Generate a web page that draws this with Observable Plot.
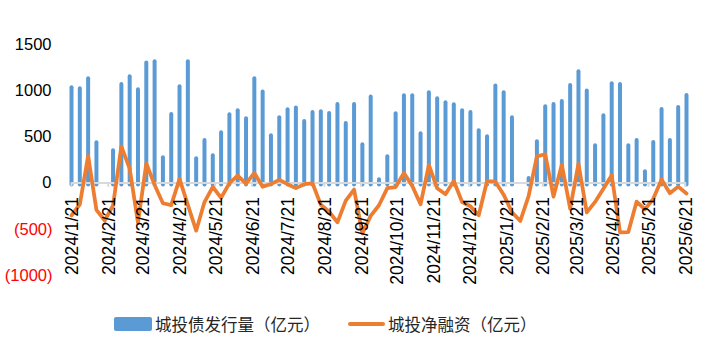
<!DOCTYPE html>
<html><head><meta charset="utf-8">
<script src="https://cdn.jsdelivr.net/npm/d3@7"></script>
<script src="https://cdn.jsdelivr.net/npm/@observablehq/plot@0.6"></script>
<style>
body{margin:0;background:#fff;}
#chart svg{display:block;}
#legend{position:relative;width:709px;height:55px;font-family:"Noto Sans CJK SC","Noto Sans",sans-serif;font-size:16.5px;color:#262626;}
#legend .sw{position:absolute;}
#legend .lb{position:absolute;line-height:16px;white-space:nowrap;}
</style></head><body>
<div id="chart"></div>
<div id="legend"></div>
<script>
// weekly observations starting at this date
const startDate = "2024-01-21";
const issuance = [1031,1020,1128,436,0,350,1067,1150,1009,1301,1312,274,742,1042,1312,263,461,296,544,
  739,782,696,1128,987,512,706,793,814,667,764,771,753,851,645,851,414,933,36,285,750,944,944,533,977,912,
  869,847,782,764,566,501,1052,977,706,0,50,447,825,851,883,1056,1204,998,404,728,1074,1067,404,461,123,
  440,796,461,818,948];
const netFinancing = [-350,-230,295,-290,-405,-240,398,157,-430,213,-20,-218,-238,45,-235,-515,-205,-40,-160,
  0,80,-5,110,-40,-10,35,-12,-55,-12,-2,-235,-310,-425,-190,-70,-545,-355,-240,-55,-43,110,-30,-230,198,-56,
  -120,23,-205,-250,-348,22,15,-125,-315,-410,-140,290,312,-146,200,-276,210,-317,-204,-60,85,-533,-530,-200,
  -285,-170,38,-110,-38,-113];
const monthTicks = ["2024-01-21","2024-02-21","2024-03-21","2024-04-21","2024-05-21","2024-06-21","2024-07-21",
  "2024-08-21","2024-09-21","2024-10-21","2024-11-21","2024-12-21","2025-01-21","2025-02-21","2025-03-21",
  "2025-04-21","2025-05-21","2025-06-21"];
const yTicks = [-1000,-500,0,500,1000,1500];
const seriesNames = ["城投债发行量（亿元）","城投净融资（亿元）"];
const colors = ["#5B9BD5","#ED7D31"];

const start = new Date(startDate + "T00:00:00Z");
const dates = issuance.map((_, i) => d3.utcDay.offset(start, 7 * i));
const data = dates.map((d, i) => ({date: d, issue: issuance[i], net: netFinancing[i]}));
const tickDates = monthTicks.map(s => new Date(s + "T00:00:00Z"));
const fmtDate = d => `${d.getUTCFullYear()}/${d.getUTCMonth() + 1}/${d.getUTCDate()}`;
const fmtY = d => d < 0 ? `(${-d})` : String(d);
const numFont = "Liberation Sans, Arial, sans-serif";

const chart = Plot.plot({
  width: 709, height: 300,
  marginLeft: 71, marginRight: 23, marginTop: 44, marginBottom: 25,
  x: {type: "utc", domain: [start, dates[dates.length - 1]], axis: null},
  y: {domain: [-1000, 1500], axis: null},
  marks: [
    Plot.ruleX(data.filter(d => d.issue > 0), {x: "date", y1: 0, y2: "issue", insetTop: 2, stroke: colors[0], strokeWidth: 4, strokeLinecap: "round"}),
    Plot.ruleY([0], {stroke: "#D9D9D9", strokeWidth: 2}),
    Plot.ruleX(tickDates, {x: d => d, y1: 0, y2: -45, stroke: "#D9D9D9", strokeWidth: 2}),
    Plot.line(data, {x: "date", y: "net", stroke: colors[1], strokeWidth: 3.75, strokeLinejoin: "round", strokeLinecap: "round"}),
    Plot.text(tickDates, {x: d => d, y: 0, text: fmtDate, rotate: -90, textAnchor: "end", dy: 14, dx: 1,
      fontSize: 17.5, fill: "#000", fontFamily: numFont}),
    Plot.text(yTicks.filter(d => d >= 0), {y: d => d, frameAnchor: "left", dx: -20, textAnchor: "end",
      text: fmtY, fontSize: 16.5, fill: "#000", fontFamily: numFont}),
    Plot.text(yTicks.filter(d => d < 0), {y: d => d, frameAnchor: "left", dx: -19, textAnchor: "end",
      text: fmtY, fontSize: 16.5, fill: "#FF0000", fontFamily: numFont})
  ]
});
document.getElementById("chart").appendChild(chart);

const lg = document.getElementById("legend");
lg.innerHTML = `
  <div class="sw" style="left:114px;top:17px;width:38px;height:14px;background:${colors[0]};border-radius:2px;"></div>
  <div class="lb" style="left:155px;top:16px;">${seriesNames[0]}</div>
  <div class="sw" style="left:348px;top:22px;width:37px;height:3.5px;background:${colors[1]};border-radius:2px;"></div>
  <div class="lb" style="left:388px;top:16px;">${seriesNames[1]}</div>`;
</script>
</body></html>
